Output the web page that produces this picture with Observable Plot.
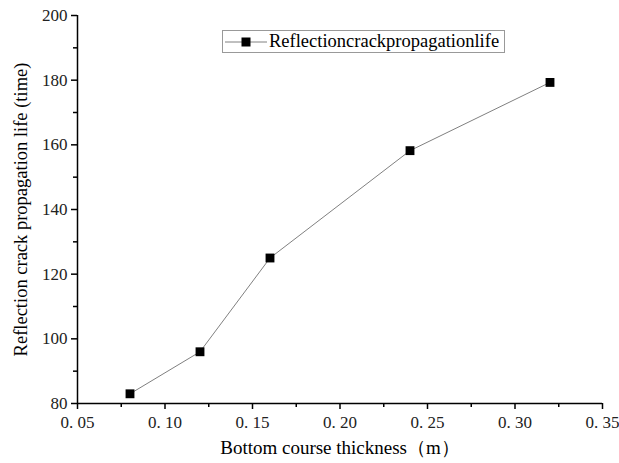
<!DOCTYPE html>
<html>
<head>
<meta charset="utf-8">
<script src="https://cdn.jsdelivr.net/npm/d3@7"></script>
<script src="https://cdn.jsdelivr.net/npm/@observablehq/plot@0.6"></script>
<style>
  html, body { margin: 0; padding: 0; background: #fff; }
  #wrap { position: relative; width: 619px; height: 463px; }
  #wrap svg text { font-family: "Liberation Serif", "Times New Roman", serif; }
  #legend {
    position: absolute; left: 222px; top: 30px; width: 283px; height: 23px;
    border: 1px solid #999; box-sizing: border-box; background: #fff;
    font-family: "Liberation Serif", "Times New Roman", serif; font-size: 18.5px;
    display: flex; align-items: center; white-space: nowrap; color: #000;
  }
  #legend svg { margin-left: 1px; margin-right: 1px; }
</style>
</head>
<body>
<div id="wrap"></div>
<script>
const thickness = [0.08, 0.12, 0.16, 0.24, 0.32];
const life = [83, 96, 125, 158.2, 179.3];
const seriesName = "Reflectioncrackpropagationlife";
const xMajor = [0.05, 0.10, 0.15, 0.20, 0.25, 0.30, 0.35];
const xMinor = [0.075, 0.125, 0.175, 0.225, 0.275, 0.325];
const yMajor = [80, 100, 120, 140, 160, 180, 200];
const yMinor = [90, 110, 130, 150, 170, 190];
const xTitle = "Bottom course thickness（m）";
const yTitle = "Reflection crack propagation life (time)";

const data = thickness.map((t, i) => ({x: t, y: life[i]}));
const fmtX = d => { const s = d.toFixed(2); return s.replace(".", ". "); };
const font = '"Liberation Serif", "Times New Roman", serif';

const chart = Plot.plot({
  width: 619,
  height: 463,
  marginLeft: 77,
  marginRight: 17,
  marginTop: 15,
  marginBottom: 60,
  style: {fontFamily: font, fontSize: "17px", color: "#000", background: "#fff"},
  x: {domain: [0.05, 0.35], label: null},
  y: {domain: [80, 200], label: null},
  marks: [
    Plot.axisX({ticks: xMinor, tickSize: 4, tickFormat: () => "", strokeWidth: 1.5, label: null}),
    Plot.axisX({ticks: xMajor, tickSize: 6, tickPadding: 6, tickFormat: fmtX, strokeWidth: 1.5,
      fontSize: 17, fontFamily: font, fill: "#222", label: null}),
    Plot.axisY({ticks: yMinor, tickSize: 4, tickFormat: () => "", strokeWidth: 1.5, label: null}),
    Plot.axisY({ticks: yMajor, tickSize: 6, tickPadding: 4, strokeWidth: 1.5,
      fontSize: 17, fontFamily: font, fill: "#222", label: null}),
    Plot.ruleY([80], {stroke: "#000", strokeWidth: 1.5}),
    Plot.ruleX([0.05], {stroke: "#000", strokeWidth: 1.5}),
    Plot.line(data, {x: "x", y: "y", stroke: "#808080", strokeWidth: 1}),
    Plot.dot(data, {x: "x", y: "y", symbol: "square", r: 5, fill: "#000", stroke: "none"}),
    Plot.text([xTitle], {frameAnchor: "bottom", dy: 50, fontSize: 19, fontFamily: font, fill: "#000"}),
    Plot.text([yTitle], {frameAnchor: "left", dx: -56, rotate: -90, textAnchor: "middle",
      fontSize: 18.5, fontFamily: font, fill: "#000"})
  ]
});

const wrap = document.getElementById("wrap");
wrap.appendChild(chart);

const legend = document.createElement("div");
legend.id = "legend";
legend.innerHTML = `<svg width="44" height="20"><line x1="1" y1="10" x2="43" y2="10" stroke="#808080" stroke-width="1"/><rect x="17.5" y="5.5" width="9" height="9" fill="#000"/></svg><span>${seriesName}</span>`;
wrap.appendChild(legend);
</script>
</body>
</html>
